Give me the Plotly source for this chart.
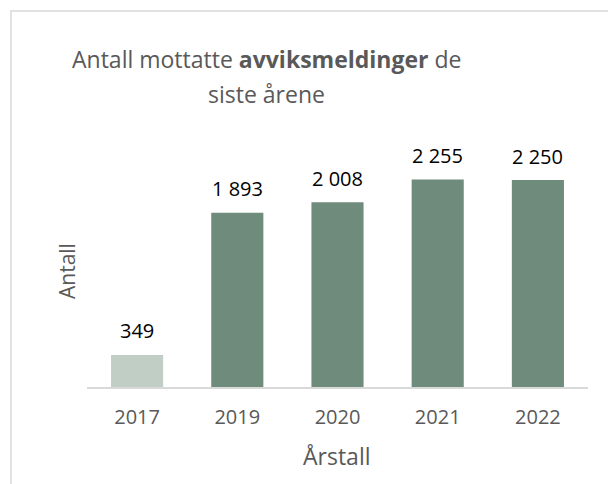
import plotly.graph_objects as go

years = ["2017", "2019", "2020", "2021", "2022"]
counts = [349, 1893, 2008, 2255, 2250]
bar_colors = ["#c0cec5", "#6e8b7b", "#6e8b7b", "#6e8b7b", "#6e8b7b"]
labels = [f"{v:,}".replace(",", " ") for v in counts]

# the page has an 8px body margin, so reference pixel positions are shifted by -8
OFF = 8
W, H = 616, 484
L, T = 87 - OFF, 157 - OFF
pw, ph = 501, 230
R, B = W - L - pw, H - T - ph

def px(x):
    return (x - OFF - L) / pw

def py(y):
    return (T + ph - (y - OFF)) / ph

FONT = "Open Sans"
GREY = "#595959"

fig = go.Figure(go.Bar(
    x=years, y=counts, marker=dict(color=bar_colors, line=dict(width=0)),
    width=0.52, hoverinfo="x+y",
))

# category axis: annotation x given as category index
annotations = [
    dict(x=i, y=v, xref="x", yref="y", text=t, showarrow=False,
         xanchor="center", yanchor="middle", yshift=24,
         font=dict(family=FONT, size=20, color="#000000"))
    for i, (v, t) in enumerate(zip(counts, labels))
]
annotations += [
    dict(text="Antall mottatte <b>avviksmeldinger</b> de",
         xref="paper", yref="paper", x=px(266), y=py(59),
         xanchor="center", yanchor="middle", showarrow=False,
         font=dict(family=FONT, size=23, color=GREY)),
    dict(text="siste årene",
         xref="paper", yref="paper", x=px(266), y=py(94),
         xanchor="center", yanchor="middle", showarrow=False,
         font=dict(family=FONT, size=23, color=GREY)),
    dict(text="Antall", xref="paper", yref="paper", x=px(67), y=py(271),
         xanchor="center", yanchor="middle", showarrow=False, textangle=-90,
         font=dict(family=FONT, size=21, color=GREY)),
    dict(text="Årstall", xref="paper", yref="paper", x=px(337), y=py(456),
         xanchor="center", yanchor="middle", showarrow=False,
         font=dict(family=FONT, size=23, color=GREY)),
]

fig.update_layout(
    width=W, height=H,
    margin=dict(l=L, r=R, t=T, b=B),
    paper_bgcolor="white", plot_bgcolor="white",
    showlegend=False,
    font=dict(family=FONT, color=GREY),
    xaxis=dict(
        type="category", categoryorder="array", categoryarray=years,
        range=[-0.5, len(years) - 0.5],
        showline=True, linecolor="#d9d9d9", linewidth=1.5,
        ticks="", tickfont=dict(size=20, color=GREY), ticklabelstandoff=11,
    ),
    yaxis=dict(
        range=[0, 2500], showgrid=False, showline=False, zeroline=False,
        showticklabels=False, ticks="",
    ),
    shapes=[dict(
        type="rect", xref="paper", yref="paper",
        x0=px(11), x1=px(660), y0=py(11), y1=py(520),
        line=dict(color="#d9d9d9", width=1.5), fillcolor="rgba(0,0,0,0)", layer="below",
    )],
    annotations=annotations,
)

fig.write_html("out.html")
